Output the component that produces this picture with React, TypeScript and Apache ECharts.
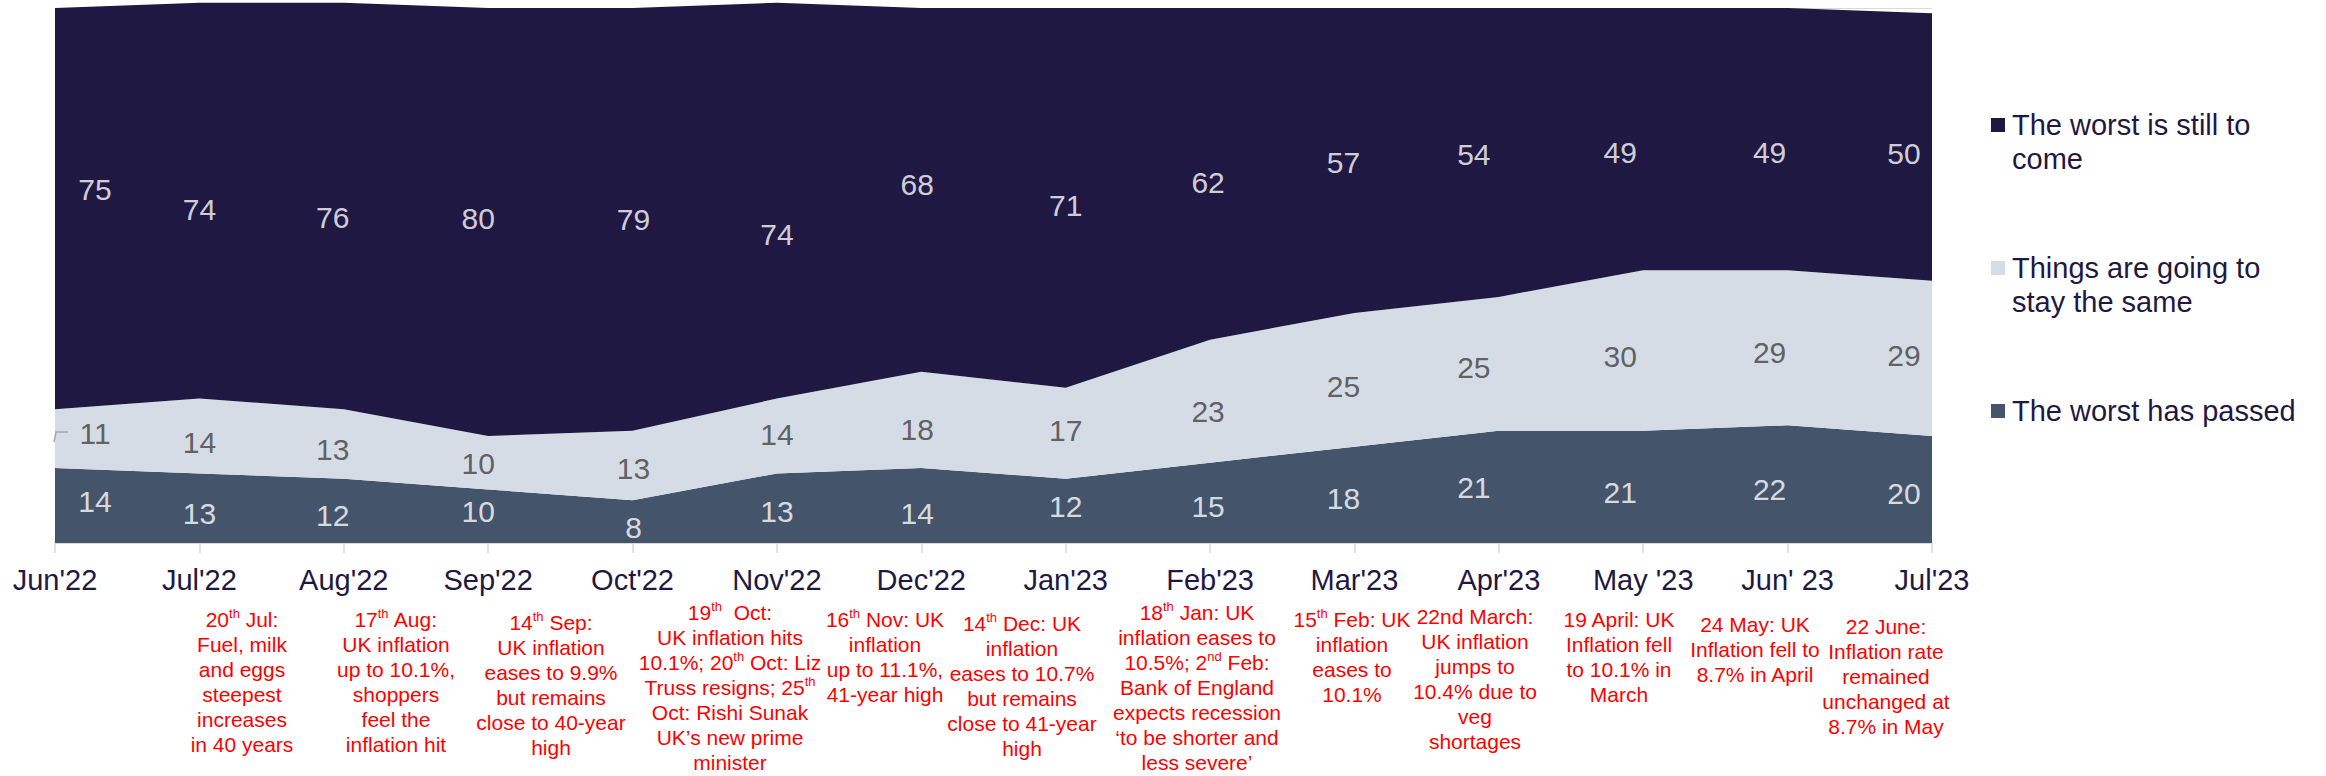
import React, { useEffect, useRef } from "react";
import * as echarts from "echarts";

const months = ["Jun'22", "Jul'22", "Aug'22", "Sep'22", "Oct'22", "Nov'22", "Dec'22", "Jan'23", "Feb'23", "Mar'23", "Apr'23", "May '23", "Jun' 23", "Jul'23"];
const worstPassed = [14, 13, 12, 10, 8, 13, 14, 12, 15, 18, 21, 21, 22, 20];
const staySame = [11, 14, 13, 10, 13, 14, 18, 17, 23, 25, 25, 30, 29, 29];
const worstToCome = [75, 74, 76, 80, 79, 74, 68, 71, 62, 57, 54, 49, 49, 50];

const seriesNames = ["The worst has passed", "Things are going to stay the same", "The worst is still to come"];
const legendTexts = ["The worst is still to\ncome", "Things are going to\nstay the same", "The worst has passed"];

const annotations = [
  "20{s|th} Jul:\nFuel, milk\nand eggs\nsteepest\nincreases\nin 40 years",
  "17{s|th} Aug:\nUK inflation\nup to 10.1%,\nshoppers\nfeel the\ninflation hit",
  "14{s|th} Sep:\nUK inflation\neases to 9.9%\nbut remains\nclose to 40-year\nhigh",
  "19{s|th}  Oct:\nUK inflation hits\n10.1%; 20{s|th} Oct: Liz\nTruss resigns; 25{s|th}\nOct: Rishi Sunak\nUK\u2019s new prime\nminister",
  "16{s|th} Nov: UK\ninflation\nup to 11.1%,\n41-year high",
  "14{s|th} Dec: UK\ninflation\neases to 10.7%\nbut remains\nclose to 41-year\nhigh",
  "18{s|th} Jan: UK\ninflation eases to\n10.5%; 2{s|nd} Feb:\nBank of England\nexpects recession\n\u2018to be shorter and\nless severe\u2019",
  "15{s|th} Feb: UK\ninflation\neases to\n10.1%",
  "22nd March:\nUK inflation\njumps to\n10.4% due to\nveg\nshortages",
  "19 April: UK\nInflation fell\nto 10.1% in\nMarch",
  "24 May: UK\nInflation fell to\n8.7% in April",
  "22 June:\nInflation rate\nremained\nunchanged at\n8.7% in May",
];

// layout / style only
const annotationPos = [
  [242, 607], [396, 607], [551, 610], [730, 600], [885, 607], [1022, 611],
  [1197, 600], [1352, 607], [1475, 604], [1619, 607], [1755, 612], [1886, 614],
];
const labelNudgeX = [40, 0, -11, -10, 1, 0, -4, 0, -2, -11, -25, -23, -18, -28];
const labelNudgeY = [
  [-4, 5, 5, -5, 6, 3, 8, -4, 4, 4, 1, 6, 5, 4],
  [-5, 6, 5, 1, 3, -2, 10, -3, 10, 7, 4, 6, 5, -3],
  [-19, 9, 12, -4, 0, 34, -5, 8, 9, 2, 2, 13, 13, 6],
];

const FONT = "'Liberation Sans', Arial, sans-serif";
const NAVY = "#1f1842";
const MID = "#d6dce5";
const SLATE = "#44546a";

export default function App() {
  const ref = useRef<HTMLDivElement>(null);
  useEffect(() => {
    if (!ref.current) return;
    const chart = echarts.init(ref.current, null, { renderer: "svg" });
    const values = [worstPassed, staySame, worstToCome];
    const colors = [SLATE, MID, NAVY];
    const labelColors = ["#ffffff", "#404040", "#ffffff"];

    const areaSeries = values.map((v, k) => ({
      name: seriesNames[k],
      type: "line",
      stack: "total",
      data: v,
      symbol: "none",
      clip: false,
      lineStyle: { width: 0 },
      areaStyle: { color: colors[k], opacity: 1 },
      silent: true,
      z: 2,
    }));

    const labelSeries = values.map((v, k) => ({
      type: "scatter",
      symbolSize: 0,
      silent: true,
      z: 5,
      data: v.map((val, i) => {
        let base = 0;
        for (let j = 0; j < k; j++) base += values[j][i];
        return {
          value: [i, base + val / 2, val],
          label: { offset: [labelNudgeX[i], labelNudgeY[k][i]] },
        };
      }),
      label: {
        show: true,
        position: "inside",
        formatter: (p: any) => String(p.value[2]),
        fontSize: 30,
        fontFamily: FONT,
        color: labelColors[k],
      },
    }));

    const graphics: any[] = [];
    const legendY = [108, 251, 394];
    const legendColors = [NAVY, MID, SLATE];
    legendTexts.forEach((t, i) => {
      graphics.push({
        type: "rect",
        shape: { x: 1991, y: legendY[i] + 10, width: 14, height: 14 },
        style: { fill: legendColors[i] },
      });
      graphics.push({
        type: "text",
        x: 2012,
        y: legendY[i],
        style: {
          text: t,
          fontSize: 29,
          lineHeight: 34,
          fontFamily: FONT,
          fill: NAVY,
          align: "left",
          verticalAlign: "top",
        },
      });
    });
    annotations.forEach((t, i) => {
      graphics.push({
        type: "text",
        x: annotationPos[i][0],
        y: annotationPos[i][1],
        style: {
          text: t,
          fontSize: 21,
          lineHeight: 25,
          fontFamily: FONT,
          fill: "#ff0000",
          align: "center",
          verticalAlign: "top",
          rich: {
            s: { fontSize: 13, lineHeight: 17, verticalAlign: "top", fill: "#ff0000", fontFamily: FONT },
          },
        },
      });
    });
    graphics.push({
      type: "polyline",
      shape: { points: [[68, 432], [56, 432], [54, 442]] },
      style: { stroke: "#a6a6a6", lineWidth: 1.5, fill: "none" },
      z: 10,
    });

    chart.setOption({
      animation: false,
      grid: { left: 55, right: 394, top: 8, bottom: 233, containLabel: false },
      xAxis: {
        type: "category",
        data: months,
        boundaryGap: false,
        axisLine: { lineStyle: { color: "#d9d9d9", width: 1.5 } },
        axisTick: { show: true, length: 10, lineStyle: { color: "#d9d9d9", width: 1.5 } },
        axisLabel: { interval: 0, fontSize: 29, fontFamily: FONT, color: NAVY, margin: 22 },
        splitLine: { show: false },
      },
      yAxis: {
        type: "value",
        min: 0,
        max: 100,
        interval: 100,
        axisLabel: { show: false },
        axisLine: { show: false },
        axisTick: { show: false },
        splitLine: { show: true, lineStyle: { color: "#d9d9d9" } },
      },
      series: [...areaSeries, ...labelSeries],
      graphic: graphics,
    });
    return () => chart.dispose();
  }, []);
  return (
    <div
      ref={ref}
      style={{ position: "fixed", left: 0, top: 0, width: 2326, height: 776, background: "#ffffff" }}
    />
  );
}
